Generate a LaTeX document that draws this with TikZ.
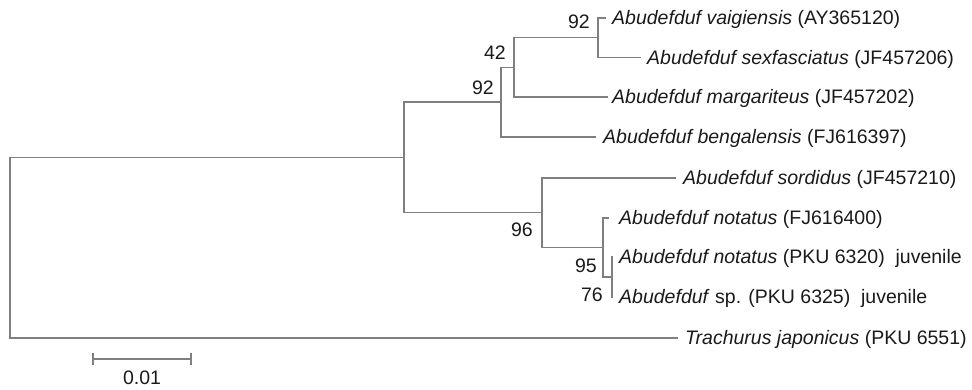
\documentclass[tikz,border=0pt]{standalone}
\usepackage{fontspec}
\setmainfont{Liberation Sans}
\definecolor{branch}{HTML}{7F7F7F}
\definecolor{txt}{HTML}{1A1A1A}
\begin{document}
\begin{tikzpicture}[x=1pt,y=-1pt,
  edge/.style={draw=branch,line width=1.5pt,line cap=rect},
  leaf/.style={anchor=base west,inner sep=0pt,text=txt,font=\fontsize{19.5}{22}\selectfont},
  bs/.style={anchor=east,inner sep=0pt,text=txt,font=\fontsize{19.5}{22}\selectfont},
  scl/.style={anchor=center,inner sep=0pt,text=txt,font=\fontsize{19.5}{22}\selectfont}]
\useasboundingbox (0,0) rectangle (972,390);
% internal nodes
\coordinate (R) at (10,247.75);
\coordinate (A) at (404,157.5);
\coordinate (B) at (501,102.2);
\coordinate (C) at (514,67.4);
\coordinate (D) at (598,37.75);
\coordinate (E) at (542,212.75);
\coordinate (F) at (603,247.5);
\coordinate (G) at (612,277);
% tips
\coordinate (tvai) at (605,18);
\coordinate (tsex) at (640,57.5);
\coordinate (tmar) at (607,97);
\coordinate (tben) at (595,137);
\coordinate (tsor) at (675,178);
\coordinate (tnfj) at (608,218);
\coordinate (tn20) at (612,257);
\coordinate (tsp) at (612,297);
\coordinate (ttra) at (677,338);
% branches
\draw[edge] (R) |- (A);
\draw[edge] (R) |- (ttra);
\draw[edge] (A) |- (B);
\draw[edge] (A) |- (E);
\draw[edge] (B) |- (C);
\draw[edge] (B) |- (tben);
\draw[edge] (C) |- (D);
\draw[edge] (C) |- (tmar);
\draw[edge] (D) |- (tvai);
\draw[edge] (D) |- (tsex);
\draw[edge] (E) |- (tsor);
\draw[edge] (E) |- (F);
\draw[edge] (F) |- (tnfj);
\draw[edge] (F) |- (G);
\draw[edge] (G) |- (tn20);
\draw[edge] (G) |- (tsp);
% leaf labels
\node[leaf] (lvai) at (612,24.8) {\textit{Abudefduf vaigiensis} (AY365120)};
\node[leaf] (lsex) at (647,64.3) {\textit{Abudefduf sexfasciatus} (JF457206)};
\node[leaf] (lmar) at (612,103.8) {\textit{Abudefduf margariteus} (JF457202)};
\node[leaf] (lben) at (603,143.8) {\textit{Abudefduf bengalensis} (FJ616397)};
\node[leaf] (lsor) at (683,184.8) {\textit{Abudefduf sordidus} (JF457210)};
\node[leaf] (lnfj) at (619,224.8) {\textit{Abudefduf notatus} (FJ616400)};
\node[leaf] (ln20) at (619,263.8) {\textit{Abudefduf notatus} (PKU 6320)\ \ juvenile};
\node[leaf] (lsp) at (619,303.8) {\textit{Abudefduf} sp. (PKU 6325)\ \ juvenile};
\node[leaf] (ltra) at (685,344.8) {\textit{Trachurus japonicus} (PKU 6551)};
% bootstrap values
\node[bs] (bD) at (590,22) {92};
\node[bs] (bC) at (506,53) {42};
\node[bs] (bB) at (494,88) {92};
\node[bs] (bE) at (533,230) {96};
\node[bs] (bF) at (597,266) {95};
\node[bs] (bG) at (603,295) {76};
% scale bar
\coordinate (s1) at (93,359);
\coordinate (s2) at (191,359);
\draw[edge,line cap=butt] (s1) -- (s2);
\draw[edge,line cap=butt] ([yshift=-6]s1) -- ([yshift=6]s1);
\draw[edge,line cap=butt] ([yshift=-6]s2) -- ([yshift=6]s2);
\node[scl] (sl) at (142,378) {0.01};
\end{tikzpicture}
\end{document}
